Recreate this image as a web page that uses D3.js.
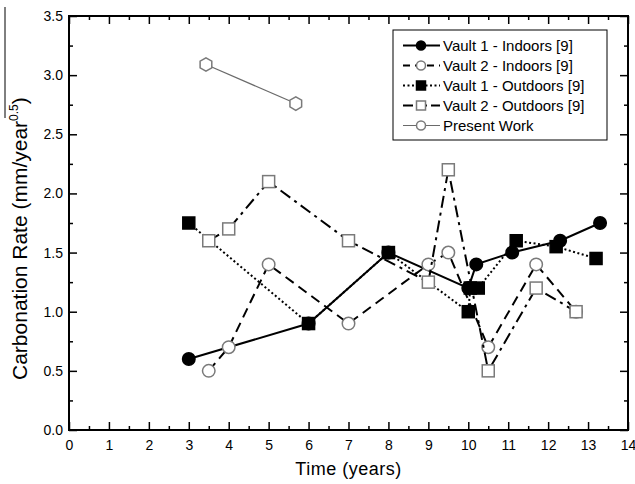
<!DOCTYPE html>
<html>
<head>
<meta charset="utf-8">
<script src="https://cdn.jsdelivr.net/npm/d3@7"></script>
<style>
  body { margin: 0; background: #fff; }
  svg text { font-family: "Liberation Sans", Arial, sans-serif; fill: #000; }
</style>
</head>
<body>
<div id="chart"></div>
<script>
// data
const v1InX = [3, 6, 8, 10, 10.2, 11.1, 12.3, 13.3];
const v1InY = [0.6, 0.9, 1.5, 1.2, 1.4, 1.5, 1.6, 1.75];
const v2InX = [3.5, 4, 5, 7, 9, 9.5, 10.5, 11.7, 12.7];
const v2InY = [0.5, 0.7, 1.4, 0.9, 1.4, 1.5, 0.7, 1.4, 1.0];
const v1OutX = [3, 6, 8, 10, 10.05, 10.25, 11.2, 12.2, 13.2];
const v1OutY = [1.75, 0.9, 1.5, 1.0, 1.2, 1.2, 1.6, 1.55, 1.45];
const v2OutX = [3.5, 4, 5, 7, 9, 9.5, 10.5, 11.7, 12.7];
const v2OutY = [1.6, 1.7, 2.1, 1.6, 1.25, 2.2, 0.5, 1.2, 1.0];
const presentX = [3.43, 5.68];
const presentY = [3.09, 2.76];

const seriesNames = ['Vault 1 - Indoors [9]', 'Vault 2 - Indoors [9]', 'Vault 1 - Outdoors [9]', 'Vault 2 - Outdoors [9]', 'Present Work'];
const xTicks = d3.range(0, 15, 1);
const yTicks = d3.range(0, 3.51, 0.5);

const width = 635, height = 484;
const margin = { top: 16, right: 7, bottom: 54, left: 69 };
const innerW = width - margin.left - margin.right;
const innerH = height - margin.top - margin.bottom;

const svg = d3.select('#chart').append('svg')
    .attr('width', width)
    .attr('height', height);

const chart = svg.append('g')
    .attr('transform', `translate(${margin.left},${margin.top})`);

const xScale = d3.scaleLinear().domain([0, 14]).range([0, innerW]);
const yScale = d3.scaleLinear().domain([0, 3.5]).range([innerH, 0]);

// axes: major + minor ticks inside on all four sides
function styleAxis(g) {
    g.select('.domain').remove();
    g.selectAll('line').attr('stroke', '#000').attr('stroke-width', 1.5);
    g.selectAll('text').attr('font-size', 14);
}

chart.append('g')
    .attr('transform', `translate(0,${innerH})`)
    .call(d3.axisBottom(xScale).tickValues(xTicks).tickSize(-8).tickPadding(10).tickFormat(d3.format('d')))
    .call(styleAxis);
chart.append('g')
    .attr('transform', `translate(0,${innerH})`)
    .call(d3.axisBottom(xScale).tickValues(d3.range(0.5, 14, 1)).tickSize(-4).tickFormat(''))
    .call(styleAxis);
chart.append('g')
    .call(d3.axisTop(xScale).tickValues(xTicks).tickSize(-8).tickFormat(''))
    .call(styleAxis);
chart.append('g')
    .call(d3.axisTop(xScale).tickValues(d3.range(0.5, 14, 1)).tickSize(-4).tickFormat(''))
    .call(styleAxis);

chart.append('g')
    .call(d3.axisLeft(yScale).tickValues(yTicks).tickSize(-8).tickPadding(6).tickFormat(d3.format('.1f')))
    .call(styleAxis);
chart.append('g')
    .call(d3.axisLeft(yScale).tickValues(d3.range(0.25, 3.5, 0.5)).tickSize(-4).tickFormat(''))
    .call(styleAxis);
chart.append('g')
    .attr('transform', `translate(${innerW},0)`)
    .call(d3.axisRight(yScale).tickValues(yTicks).tickSize(-8).tickFormat(''))
    .call(styleAxis);
chart.append('g')
    .attr('transform', `translate(${innerW},0)`)
    .call(d3.axisRight(yScale).tickValues(d3.range(0.25, 3.5, 0.5)).tickSize(-4).tickFormat(''))
    .call(styleAxis);

chart.append('rect')
    .attr('width', innerW)
    .attr('height', innerH)
    .attr('fill', 'none')
    .attr('stroke', '#000')
    .attr('stroke-width', 2);

// series
const series = [
    { xs: v1InX, ys: v1InY, dash: null, marker: 'circle', filled: true },
    { xs: v2InX, ys: v2InY, dash: '10,6', marker: 'circle', filled: false },
    { xs: v1OutX, ys: v1OutY, dash: '2,2.5', marker: 'square', filled: true },
    { xs: v2OutX, ys: v2OutY, dash: '12,5,3,5', marker: 'square', filled: false },
    { xs: presentX, ys: presentY, dash: null, marker: 'hexagon', filled: false, thin: true }
];

const line = d3.line().x(d => xScale(d[0])).y(d => yScale(d[1]));

function drawMarker(g, type, filled, size) {
    const fill = filled ? '#000' : '#fff';
    const stroke = filled ? '#000' : '#7a7a7a';
    let m;
    if (type === 'circle') {
        m = g.append('circle').attr('r', size / 2);
    } else if (type === 'square') {
        m = g.append('rect').attr('x', -size / 2).attr('y', -size / 2).attr('width', size).attr('height', size);
    } else {
        const r = size / 2 + 0.5;
        const pts = d3.range(6).map(i => {
            const a = Math.PI / 6 + i * Math.PI / 3;
            return [r * Math.cos(a), r * Math.sin(a)];
        });
        m = g.append('polygon').attr('points', pts.map(p => p.join(',')).join(' '));
    }
    m.attr('fill', fill).attr('stroke', stroke).attr('stroke-width', 1.5);
}

series.forEach(s => {
    const pts = s.xs.map((x, i) => [x, s.ys[i]]);
    chart.append('path')
        .datum(pts)
        .attr('fill', 'none')
        .attr('stroke', s.thin ? '#6a6a6a' : '#000')
        .attr('stroke-width', s.thin ? 1.2 : 2)
        .attr('stroke-dasharray', s.dash)
        .attr('d', line);
    pts.forEach(p => {
        const g = chart.append('g')
            .attr('transform', `translate(${xScale(p[0])},${yScale(p[1])})`);
        drawMarker(g, s.marker, s.filled, s.marker === 'square' ? 12 : 12.5);
    });
});

// legend
const legend = svg.append('g');
legend.append('rect')
    .attr('x', 393).attr('y', 30)
    .attr('width', 214).attr('height', 110)
    .attr('fill', '#fff')
    .attr('stroke', '#000')
    .attr('stroke-width', 1);

seriesNames.forEach((name, i) => {
    const s = series[i];
    const base = 51 + i * 20;
    const row = legend.append('g').attr('transform', `translate(0,${base})`);
    row.append('line')
        .attr('x1', 403).attr('x2', 440)
        .attr('y1', -5.5).attr('y2', -5.5)
        .attr('stroke', s.thin ? '#6a6a6a' : '#000')
        .attr('stroke-width', s.thin ? 1.2 : 2)
        .attr('stroke-dasharray', s.dash ? (s.dash === '10,6' ? '7,5' : s.dash === '12,5,3,5' ? '10,4' : s.dash) : null);
    const mg = row.append('g').attr('transform', 'translate(421,-5.5)');
    drawMarker(mg, s.marker === 'hexagon' ? 'circle' : s.marker, s.filled, 9);
    row.append('text')
        .attr('x', 443).attr('y', 0)
        .attr('font-size', 15)
        .text(name);
});

// axis titles
svg.append('text')
    .attr('x', margin.left + innerW / 2)
    .attr('y', 475)
    .attr('text-anchor', 'middle')
    .attr('font-size', 18)
    .attr('letter-spacing', 0.5)
    .text('Time (years)');

const yTitle = svg.append('text')
    .attr('transform', 'translate(27,380) rotate(-90)')
    .attr('font-size', 21);
yTitle.append('tspan').text('Carbonation Rate (mm/year');
yTitle.append('tspan').attr('font-size', 12).attr('dy', -9).text('0.5');
yTitle.append('tspan').attr('dy', 9).text(')');

svg.append('line')
    .attr('x1', 5).attr('x2', 5)
    .attr('y1', 7).attr('y2', 118)
    .attr('stroke', '#000')
    .attr('stroke-width', 1);
</script>
</body>
</html>
